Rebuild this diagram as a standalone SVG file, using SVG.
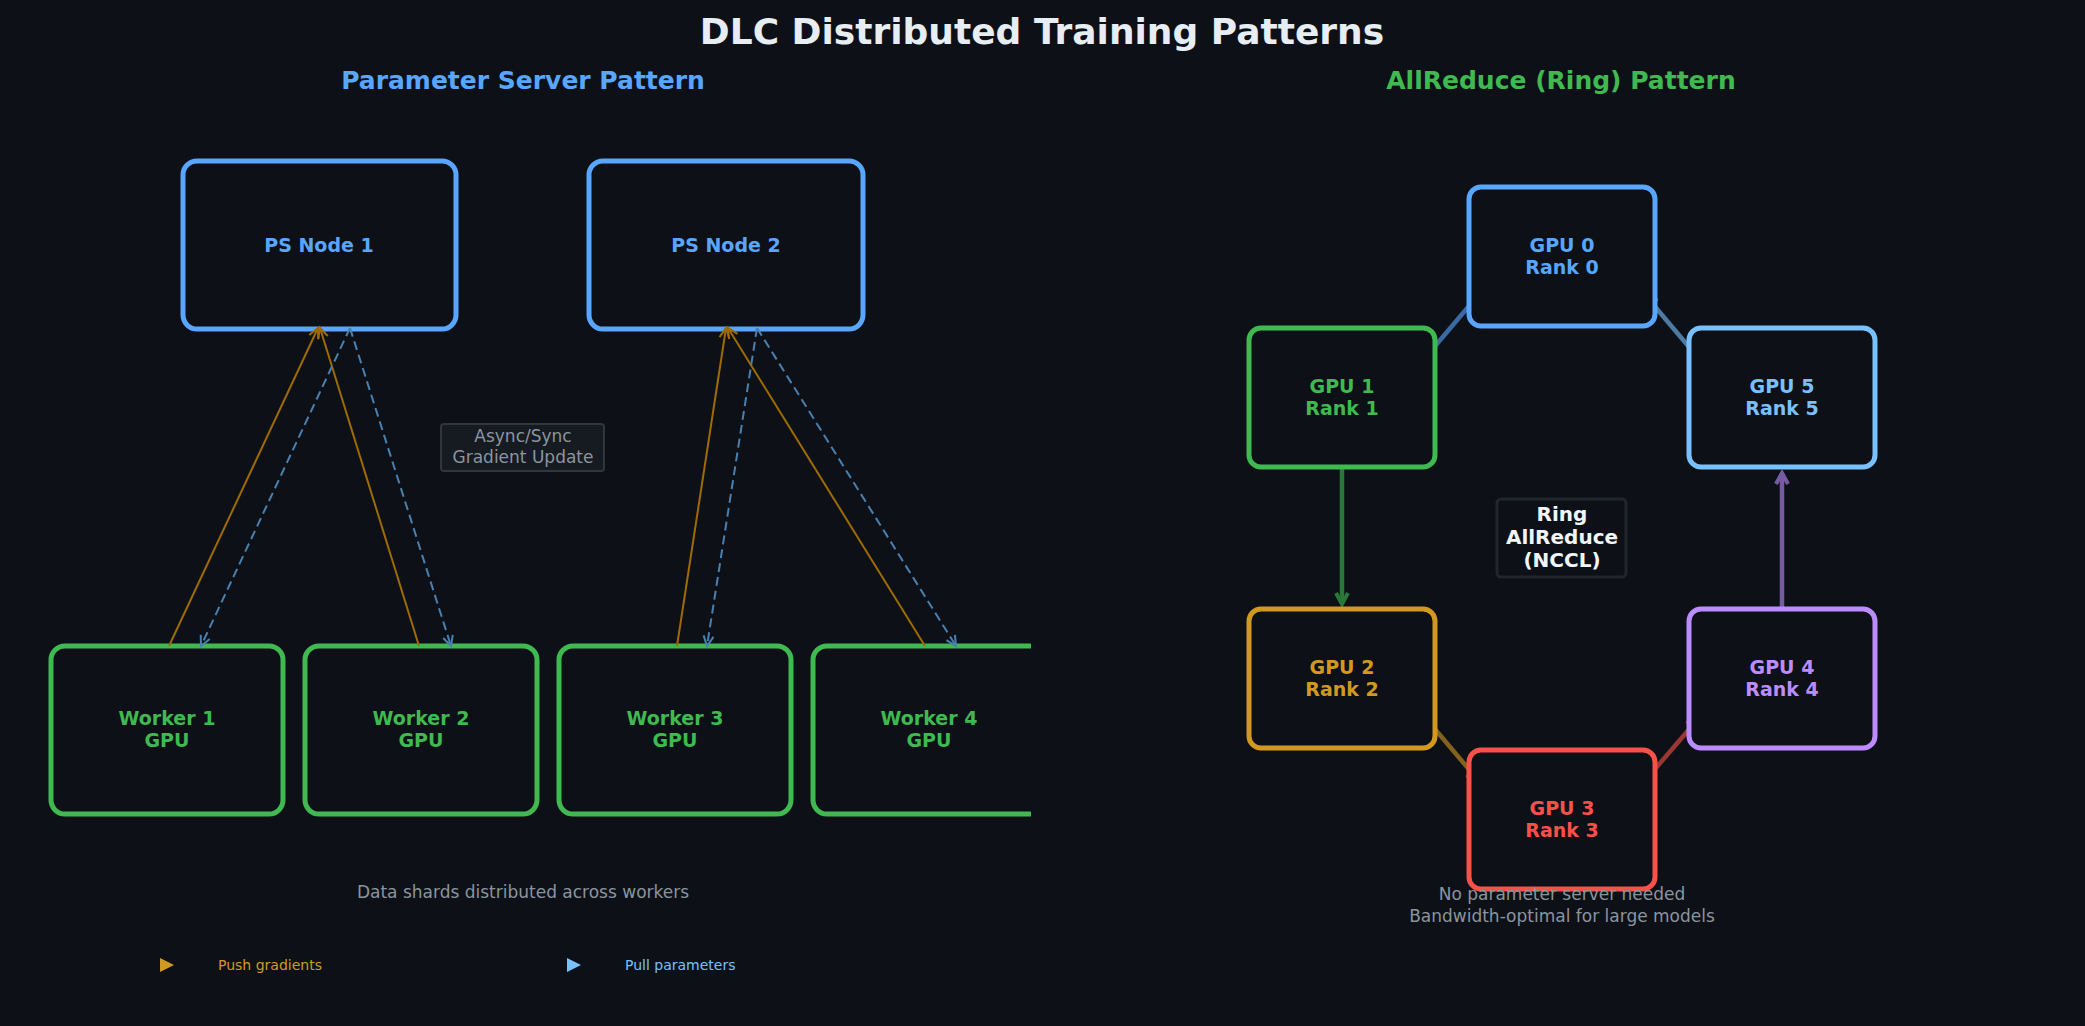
<svg xmlns="http://www.w3.org/2000/svg" width="2085" height="1026" viewBox="0 0 2085 1026">
<style>
text{font-family:"DejaVu Sans","Liberation Sans",sans-serif;text-anchor:middle;dominant-baseline:central}
.box{fill:#0d1117;stroke-width:5}
.lbl{font-size:19px;font-weight:bold}
.push{stroke:#9e6a03;stroke-width:2;fill:none}
.pull{stroke:#4a80b0;stroke-width:2;fill:none;stroke-dasharray:9,5}
.ring{stroke-width:4.5;fill:none;opacity:0.6}
.gray{fill:#8b949e;font-size:17px}
</style>
<defs>
<marker id="mPush" markerWidth="14" markerHeight="14" refX="12" refY="7" orient="auto" markerUnits="userSpaceOnUse"><path d="M2,2 L12,7 L2,12" fill="none" stroke="#9e6a03" stroke-width="2"/></marker>
<marker id="mPull" markerWidth="14" markerHeight="14" refX="12" refY="7" orient="auto" markerUnits="userSpaceOnUse"><path d="M2,2 L12,7 L2,12" fill="none" stroke="#4a80b0" stroke-width="2"/></marker>
<marker id="mB" markerWidth="16" markerHeight="16" refX="13" refY="8" orient="auto" markerUnits="userSpaceOnUse"><path d="M2,2 L13,8 L2,14" fill="none" stroke="#58a6ff" stroke-width="4"/></marker>
<marker id="mG" markerWidth="16" markerHeight="16" refX="13" refY="8" orient="auto" markerUnits="userSpaceOnUse"><path d="M2,2 L13,8 L2,14" fill="none" stroke="#3fb950" stroke-width="4"/></marker>
<marker id="mO" markerWidth="16" markerHeight="16" refX="13" refY="8" orient="auto" markerUnits="userSpaceOnUse"><path d="M2,2 L13,8 L2,14" fill="none" stroke="#d29922" stroke-width="4"/></marker>
<marker id="mR" markerWidth="16" markerHeight="16" refX="13" refY="8" orient="auto" markerUnits="userSpaceOnUse"><path d="M2,2 L13,8 L2,14" fill="none" stroke="#f85149" stroke-width="4"/></marker>
<marker id="mP" markerWidth="16" markerHeight="16" refX="13" refY="8" orient="auto" markerUnits="userSpaceOnUse"><path d="M2,2 L13,8 L2,14" fill="none" stroke="#bc8cff" stroke-width="4"/></marker>
<marker id="mL" markerWidth="16" markerHeight="16" refX="13" refY="8" orient="auto" markerUnits="userSpaceOnUse"><path d="M2,2 L13,8 L2,14" fill="none" stroke="#79c0ff" stroke-width="4"/></marker>
<clipPath id="clipL"><rect x="0" y="0" width="1031" height="1026"/></clipPath>
</defs>
<rect width="2085" height="1026" fill="#0d1117"/>
<text x="1042" y="31" font-size="36" font-weight="bold" fill="#e6edf3">DLC Distributed Training Patterns</text>
<text x="523" y="80" font-size="25" font-weight="bold" fill="#58a6ff">Parameter Server Pattern</text>
<text x="1561" y="80" font-size="25" font-weight="bold" fill="#3fb950">AllReduce (Ring) Pattern</text>

<g id="ps1"><rect class="box" x="183" y="161" width="273" height="168" rx="14" stroke="#58a6ff"/><text class="lbl" x="319" y="245" fill="#58a6ff">PS Node 1</text></g>
<g id="ps2"><rect class="box" x="589" y="161" width="274" height="168" rx="14" stroke="#58a6ff"/><text class="lbl" x="726" y="245" fill="#58a6ff">PS Node 2</text></g>
<g id="worker1"><rect class="box" x="51" y="646" width="232" height="168" rx="14" stroke="#3fb950" stroke-width="4"/><text class="lbl" x="167" y="718" fill="#3fb950">Worker 1</text><text class="lbl" x="167" y="740" fill="#3fb950">GPU</text></g>
<g id="worker2"><rect class="box" x="305" y="646" width="232" height="168" rx="14" stroke="#3fb950" stroke-width="4"/><text class="lbl" x="421" y="718" fill="#3fb950">Worker 2</text><text class="lbl" x="421" y="740" fill="#3fb950">GPU</text></g>
<g id="worker3"><rect class="box" x="559" y="646" width="232" height="168" rx="14" stroke="#3fb950" stroke-width="4"/><text class="lbl" x="675" y="718" fill="#3fb950">Worker 3</text><text class="lbl" x="675" y="740" fill="#3fb950">GPU</text></g>
<g id="worker4" clip-path="url(#clipL)"><rect class="box" x="813" y="646" width="232" height="168" rx="14" stroke="#3fb950" stroke-width="4"/><text class="lbl" x="929" y="718" fill="#3fb950">Worker 4</text><text class="lbl" x="929" y="740" fill="#3fb950">GPU</text></g>

<g id="connectors">
<line class="push" x1="169" y1="646" x2="318" y2="328" marker-end="url(#mPush)"/>
<line class="push" x1="419" y1="646" x2="320" y2="328" marker-end="url(#mPush)"/>
<line class="pull" x1="350" y1="328" x2="201" y2="646" marker-end="url(#mPull)"/>
<line class="pull" x1="350" y1="328" x2="451" y2="646" marker-end="url(#mPull)"/>
<line class="push" x1="677" y1="646" x2="726" y2="328" marker-end="url(#mPush)"/>
<line class="push" x1="925" y1="646" x2="728" y2="328" marker-end="url(#mPush)"/>
<line class="pull" x1="757" y1="328" x2="707" y2="646" marker-end="url(#mPull)"/>
<line class="pull" x1="757" y1="328" x2="956" y2="646" marker-end="url(#mPull)"/>
<line class="ring" stroke="#58a6ff" x1="1480" y1="293" x2="1425" y2="358" marker-end="url(#mB)"/>
<line class="ring" stroke="#3fb950" x1="1342" y1="467" x2="1342" y2="604" marker-end="url(#mG)"/>
<line class="ring" stroke="#d29922" x1="1423" y1="715" x2="1478" y2="780" marker-end="url(#mO)"/>
<line class="ring" stroke="#f85149" x1="1643" y1="783" x2="1698" y2="719" marker-end="url(#mR)"/>
<line class="ring" stroke="#bc8cff" x1="1782" y1="609" x2="1782" y2="473" marker-end="url(#mP)"/>
<line class="ring" stroke="#79c0ff" x1="1700" y1="360" x2="1646" y2="296" marker-end="url(#mL)"/>
</g>

<g id="asyncLabel"><rect x="441" y="424" width="163" height="47" rx="3" fill="#161b22" stroke="#30363d" stroke-width="2"/><text class="gray" x="523" y="436" font-size="18">Async/Sync</text><text class="gray" x="523" y="457" font-size="18">Gradient Update</text></g>
<text class="gray" x="523" y="892">Data shards distributed across workers</text>
<g id="legend">
<polygon points="160,958 174,965 160,972" fill="#d29922"/><text x="218" y="965" font-size="14" fill="#d29922" text-anchor="start" style="text-anchor:start">Push gradients</text>
<polygon points="567,958 581,965 567,972" fill="#79c0ff"/><text x="625" y="965" font-size="14" fill="#79c0ff" style="text-anchor:start">Pull parameters</text>
</g>

<g id="gpu0"><rect class="box" x="1469" y="187" width="186" height="139" rx="12" stroke="#58a6ff"/><text class="lbl" x="1562" y="245" fill="#58a6ff">GPU 0</text><text class="lbl" x="1562" y="267" fill="#58a6ff">Rank 0</text></g>
<g id="gpu1"><rect class="box" x="1249" y="328" width="186" height="139" rx="12" stroke="#3fb950"/><text class="lbl" x="1342" y="386" fill="#3fb950">GPU 1</text><text class="lbl" x="1342" y="408" fill="#3fb950">Rank 1</text></g>
<g id="gpu5"><rect class="box" x="1689" y="328" width="186" height="139" rx="12" stroke="#79c0ff"/><text class="lbl" x="1782" y="386" fill="#79c0ff">GPU 5</text><text class="lbl" x="1782" y="408" fill="#79c0ff">Rank 5</text></g>
<g id="gpu2"><rect class="box" x="1249" y="609" width="186" height="139" rx="12" stroke="#d29922"/><text class="lbl" x="1342" y="667" fill="#d29922">GPU 2</text><text class="lbl" x="1342" y="689" fill="#d29922">Rank 2</text></g>
<g id="gpu4"><rect class="box" x="1689" y="609" width="186" height="139" rx="12" stroke="#bc8cff"/><text class="lbl" x="1782" y="667" fill="#bc8cff">GPU 4</text><text class="lbl" x="1782" y="689" fill="#bc8cff">Rank 4</text></g>
<g id="gpu3"><rect class="box" x="1469" y="750" width="186" height="139" rx="12" stroke="#f85149"/><text class="lbl" x="1562" y="808" fill="#f85149">GPU 3</text><text class="lbl" x="1562" y="830" fill="#f85149">Rank 3</text></g>
<g id="ringLabel"><rect x="1497" y="499" width="129" height="78" rx="4" fill="#0d1117" stroke="#21262d" stroke-width="3"/><text x="1562" y="514" font-size="20" font-weight="bold" fill="#f0f6fc">Ring</text><text x="1562" y="537" font-size="20" font-weight="bold" fill="#f0f6fc">AllReduce</text><text x="1562" y="560" font-size="20" font-weight="bold" fill="#f0f6fc">(NCCL)</text></g>
<text class="gray" x="1562" y="894">No parameter server needed</text>
<text class="gray" x="1562" y="916">Bandwidth-optimal for large models</text>
</svg>
